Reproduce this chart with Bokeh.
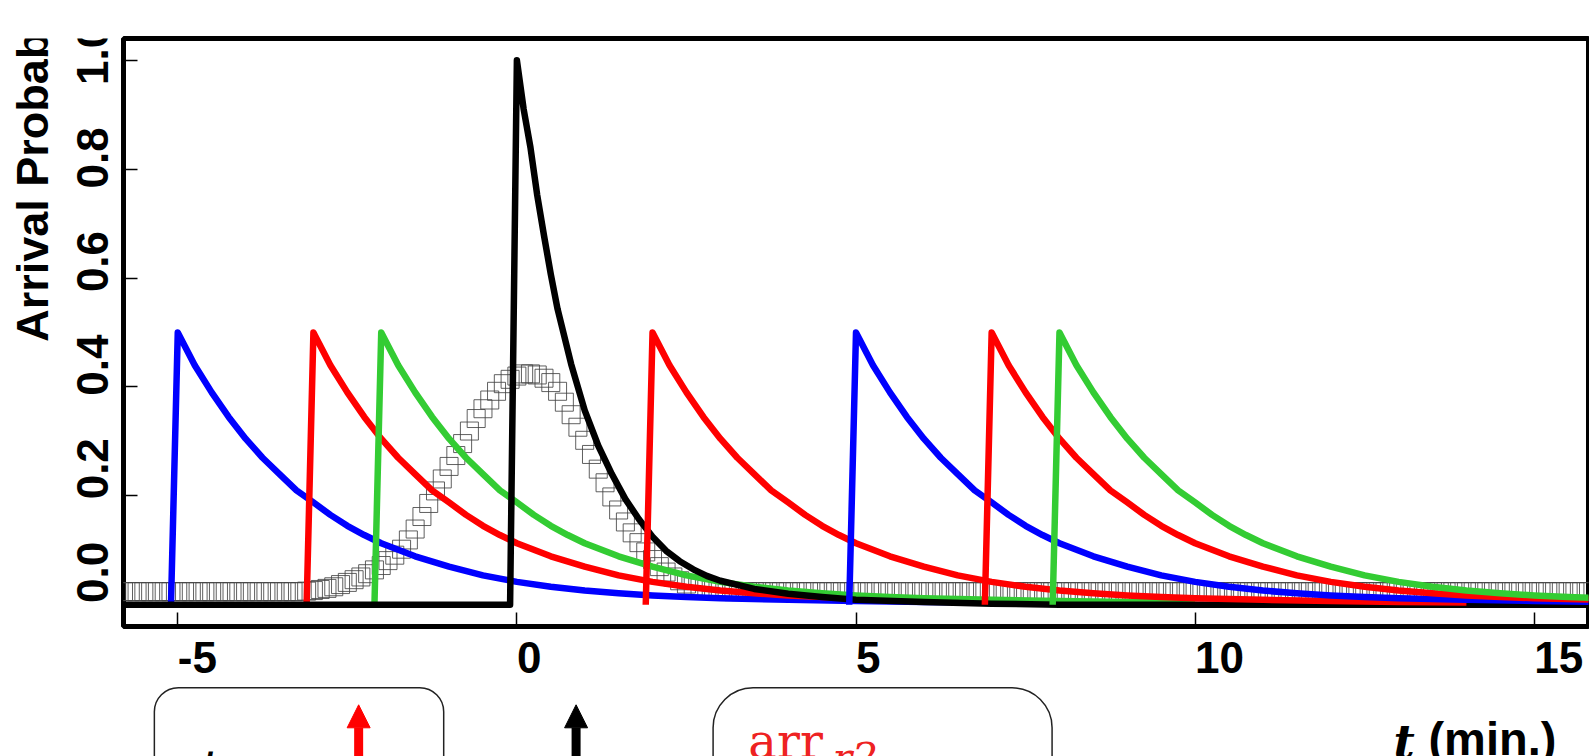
import numpy as np
from bokeh.plotting import figure
from bokeh.models import (Range1d, FixedTicker, CustomJSTickFormatter,
                          BoxAnnotation, Arrow, NormalHead, Spacer, ColumnDataSource)
from bokeh.layouts import column, row
from bokeh.embed import file_html
from bokeh.resources import INLINE
from bokeh.core.properties import value

# ---------------- data ----------------
X_MIN, X_MAX = -5.8, 15.8
Y_MIN, Y_MAX = -0.04, 1.04

x_ticks = [-5, 0, 5, 10, 15]
x_tick_labels = ["-5", "0", "5", "10", "15"]
y_ticks = [0.0, 0.2, 0.4, 0.6, 0.8, 1.0]
y_tick_labels = ["0.0", "0.2", "0.4", "0.6", "0.8", "1.0"]
y_title = "Arrival Probability"
x_title_var = "t"
x_title_unit = "(min.)"

# onset times (min) of each pulse
blue_onsets = [-5.0, 5.0]
red_onsets = [-3.0, 2.0, 7.0]
green_onsets = [-2.0, 8.0]
black_onsets = [0.0]

# shape of a coloured pulse: offset from onset (min) -> probability
pulse_offsets = [-0.1, 0.0, 0.25, 0.5, 0.75, 1.0, 1.25, 1.5, 1.75, 2.0, 2.25, 2.5,
                 2.75, 3.0, 3.5, 4.0, 4.5, 5.0, 5.5, 6.0, 6.5, 7.0, 7.5, 8.0,
                 9.0, 10.0, 11.0, 12.0]
pulse_p = [0.0, 0.50, 0.44, 0.39, 0.345, 0.305, 0.270, 0.240, 0.210, 0.188, 0.165,
           0.145, 0.128, 0.113, 0.089, 0.070, 0.054, 0.042, 0.033, 0.026, 0.021,
           0.017, 0.014, 0.012, 0.009, 0.007, 0.005, 0.004]

# shape of the black pulse
black_offsets = [-0.1, 0.0, 0.1, 0.2, 0.3, 0.4, 0.5, 0.6, 0.8, 1.0, 1.2, 1.4, 1.6,
                 1.8, 2.0, 2.2, 2.4, 2.6, 2.8, 3.0, 3.5, 4.0, 4.5, 5.0, 6.0, 7.0, 8.0]
black_p = [0.0, 1.0, 0.91, 0.84, 0.752, 0.678, 0.607, 0.543, 0.442, 0.357, 0.292,
           0.240, 0.194, 0.157, 0.125, 0.099, 0.080, 0.065, 0.053, 0.044, 0.029,
           0.020, 0.014, 0.009, 0.005, 0.002, 0.0]

# open-square series, one marker every 0.1 min starting at -5.9
square_t0 = -5.9
square_dt = 0.1
square_p = [
    0.024, 0.024, 0.024, 0.024, 0.024, 0.024, 0.024, 0.024, 0.024, 0.024,
    0.024, 0.024, 0.024, 0.024, 0.024, 0.024, 0.024, 0.024, 0.024, 0.024,
    0.024, 0.024, 0.024, 0.024, 0.024, 0.024, 0.024,
    0.024, 0.025, 0.026, 0.028, 0.030, 0.033, 0.037, 0.041, 0.046, 0.051,
    0.057, 0.064, 0.072, 0.081, 0.091, 0.102, 0.119, 0.139, 0.162, 0.186,
    0.209, 0.231, 0.254, 0.274, 0.296, 0.319, 0.342, 0.360, 0.376, 0.392,
    0.406, 0.414, 0.420, 0.424, 0.424, 0.422, 0.416, 0.408, 0.392, 0.372,
    0.349, 0.326, 0.302, 0.276, 0.249, 0.224, 0.198, 0.174, 0.152, 0.132,
    0.114, 0.097, 0.083, 0.070, 0.060, 0.051, 0.044, 0.038, 0.034, 0.031,
    0.028, 0.027, 0.026, 0.025, 0.024,
    0.024, 0.024, 0.024, 0.024, 0.024, 0.024, 0.024, 0.024, 0.024, 0.024,
    0.024, 0.024, 0.024, 0.024, 0.024, 0.024, 0.024, 0.024, 0.024, 0.024,
    0.024, 0.024, 0.024, 0.024, 0.024, 0.024, 0.024, 0.024, 0.024, 0.024,
    0.024, 0.024, 0.024, 0.024, 0.024, 0.024, 0.024, 0.024, 0.024, 0.024,
    0.024, 0.024, 0.024, 0.024, 0.024, 0.024, 0.024, 0.024, 0.024, 0.024,
    0.024, 0.024, 0.024, 0.024, 0.024, 0.024, 0.024, 0.024, 0.024, 0.024,
    0.024, 0.024, 0.024, 0.024, 0.024, 0.024, 0.024, 0.024, 0.024, 0.024,
    0.024, 0.024, 0.024, 0.024, 0.024, 0.024, 0.024, 0.024, 0.024, 0.024,
    0.024, 0.024, 0.024, 0.024, 0.024, 0.024, 0.024, 0.024, 0.024, 0.024,
    0.024, 0.024, 0.024, 0.024, 0.024, 0.024, 0.024, 0.024, 0.024, 0.024,
    0.024, 0.024, 0.024, 0.024, 0.024, 0.024, 0.024, 0.024, 0.024, 0.024,
    0.024, 0.024, 0.024, 0.024, 0.024, 0.024, 0.024, 0.024, 0.024, 0.024,
    0.024, 0.024, 0.024, 0.024, 0.024, 0.024,
]
square_t = [square_t0 + i * square_dt for i in range(len(square_p))]

# ---------------- layout geometry ----------------
FONT = "Liberation Sans"
SERIF = "DejaVu Serif"
TOP_GAP = 11
STRIP_W = 120
MAIN_W = 1589 - STRIP_W
BORDER_T, FRAME_H, BORDER_B = 27, 588, 3
MAIN_H = BORDER_T + FRAME_H + BORDER_B
BOTTOM_H = 756 - TOP_GAP - MAIN_H
PPU = FRAME_H / (Y_MAX - Y_MIN)

x_range = Range1d(X_MIN, X_MAX)
y_range = Range1d(Y_MIN, Y_MAX)

# ---------------- main plot ----------------
p = figure(width=MAIN_W, height=MAIN_H, x_range=x_range, y_range=y_range,
           output_backend="svg", toolbar_location=None,
           min_border_left=3, min_border_right=1,
           min_border_top=BORDER_T, min_border_bottom=BORDER_B)
p.grid.visible = False
p.outline_line_color = "black"
p.outline_line_width = 5
p.outline_line_alpha = 1.0
p.background_fill_color = "white"
p.border_fill_color = "white"

empty = CustomJSTickFormatter(code="return ''")
for ax, ticks in ((p.xaxis[0], x_ticks), (p.yaxis[0], y_ticks)):
    ax.ticker = FixedTicker(ticks=ticks)
    ax.formatter = empty
    ax.axis_line_color = None
    ax.major_tick_in = 14
    ax.major_tick_out = 0
    ax.major_tick_line_width = 1.5
    ax.major_tick_line_color = "black"
    ax.minor_tick_line_color = None
    ax.major_label_standoff = 0
    ax.major_label_text_font_size = "0px"

# open squares
p.scatter(square_t, square_p, marker="square", size=18, fill_color=None,
          line_color="#444444", line_width=1, line_alpha=0.85)

# pulses, drawn in order of onset (later ones on top)
pulses = []
for t0 in blue_onsets:
    pulses.append((t0, "#0000ff"))
for t0 in red_onsets:
    pulses.append((t0, "#ff0000"))
for t0 in green_onsets:
    pulses.append((t0, "#33cc33"))
for t0 in black_onsets:
    pulses.append((t0, "black"))
pulses.sort(key=lambda a: a[0])

for t0, col in pulses:
    if col == "black":
        xs = [X_MIN] + [t0 + d for d in black_offsets] + [X_MAX]
        ys = [0.0] + black_p + [0.0]
        p.line(xs, ys, line_color="black", line_width=6.5, line_join="round")
    else:
        xs = [t0 + d for d in pulse_offsets]
        p.line(xs, pulse_p, line_color=col, line_width=6.5, line_join="round")

# ---------------- left strip: y tick labels and y title ----------------
strip = figure(width=STRIP_W, height=MAIN_H, x_range=Range1d(0, STRIP_W),
               y_range=Range1d(Y_MIN - BORDER_B / PPU, Y_MAX + BORDER_T / PPU),
               output_backend="svg", toolbar_location=None,
               x_axis_type=None, y_axis_type=None, min_border=0)
strip.outline_line_color = None
strip.grid.visible = False
ysrc = ColumnDataSource(dict(x=[92.0] * len(y_ticks), y=y_ticks, t=y_tick_labels))
strip.text(x="x", y="y", text="t", source=ysrc, angle=np.pi / 2,
           text_font=value(FONT), text_font_style="bold", text_font_size="44px",
           text_align="left", text_baseline="alphabetic", text_color="black")
strip.text(x=[31.5], y=[0.504], text=[y_title], angle=np.pi / 2,
           text_font=value(FONT), text_font_style="bold", text_font_size="45px",
           text_align="left", text_baseline="alphabetic", text_color="black")

# ---------------- bottom strip: x tick labels, x title, boxes ----------------
# y of this strip is measured in pixels below its top edge
bottom = figure(width=1589, height=BOTTOM_H, x_range=x_range,
                y_range=Range1d(BOTTOM_H, 0), output_backend="svg",
                toolbar_location=None, x_axis_type=None, y_axis_type=None,
                min_border_left=STRIP_W + 3, min_border_right=1,
                min_border_top=0, min_border_bottom=0)
bottom.outline_line_color = None
bottom.grid.visible = False

xsrc = ColumnDataSource(dict(x=x_ticks, y=[28] * len(x_ticks), t=x_tick_labels))
bottom.text(x="x", y="y", text="t", source=xsrc, text_font=value(FONT),
            text_font_style="bold", text_font_size="44px", text_align="left",
            text_baseline="alphabetic", text_color="black")

bottom.text(x=[12.924], y=[112], text=[x_title_var], text_font=value(SERIF),
            text_font_style="bold italic", text_font_size="46px",
            text_align="left", text_baseline="alphabetic", text_color="black")
bottom.text(x=[13.44], y=[109], text=[x_title_unit], text_font=value(FONT),
            text_font_style="bold", text_font_size="47px", text_align="left",
            text_baseline="alphabetic", text_color="black")

bottom.add_layout(BoxAnnotation(left=-5.345, right=-1.079, top=58.3, bottom=300,
                                border_radius=24, fill_alpha=0,
                                line_color="#222222", line_alpha=1, line_width=1.5))
bottom.add_layout(BoxAnnotation(left=2.893, right=7.891, top=58.3, bottom=300,
                                border_radius=40, fill_alpha=0,
                                line_color="#222222", line_alpha=1, line_width=1.5))

for ax_x, col in ((-2.333, "#ff0000"), (0.873, "black")):
    bottom.add_layout(Arrow(end=NormalHead(size=23, fill_color=col, line_color=col),
                            x_start=ax_x, y_start=300, x_end=ax_x, y_end=75.3,
                            line_color=col, line_width=9))

bottom.text(x=[-4.667], y=[138], text=["t"], text_font=value(SERIF),
            text_font_style="italic", text_font_size="48px", text_align="left",
            text_baseline="alphabetic", text_color="black")
bottom.text(x=[3.413], y=[111], text=["arr"], text_font=value(SERIF),
            text_font_size="48px", text_align="left", text_baseline="alphabetic",
            text_color="#ee2222")
bottom.text(x=[4.652], y=[128], text=["r2"], text_font=value(SERIF),
            text_font_style="italic", text_font_size="41px", text_align="left",
            text_baseline="alphabetic", text_color="#ee2222")

layout = column(Spacer(width=1589, height=TOP_GAP), row(strip, p), bottom)
open("out.html", "w").write(file_html(layout, INLINE))
